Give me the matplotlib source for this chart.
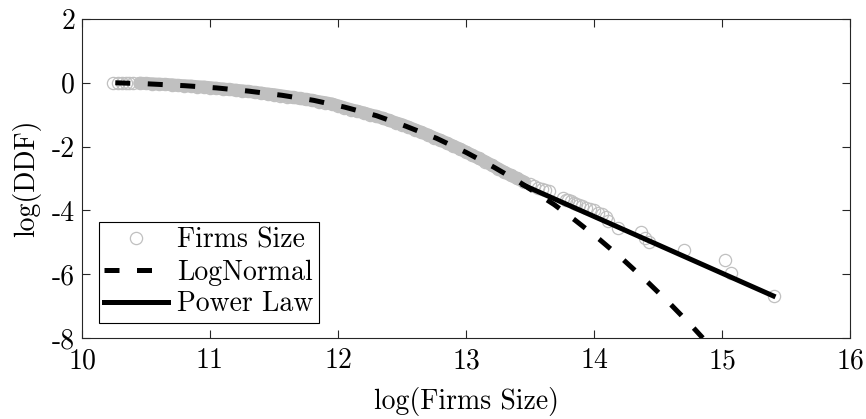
import matplotlib
matplotlib.use('Agg')
import matplotlib.pyplot as plt
import numpy as np

plt.rcParams['font.family'] = 'cmr10'
plt.rcParams['axes.unicode_minus'] = False
plt.rcParams['axes.formatter.use_mathtext'] = False

# firms size data (log-log ccdf)
# dense body
body_x = [10.24, 10.28, 10.31, 10.34, 10.37, 10.40,
          10.45, 10.50, 10.55, 10.60, 10.65, 10.70, 10.75, 10.80, 10.85, 10.90,
          10.95, 11.00, 11.05, 11.10, 11.15, 11.20, 11.25, 11.30, 11.35, 11.40,
          11.45, 11.50, 11.55, 11.60, 11.65, 11.70, 11.75, 11.80, 11.85, 11.90,
          11.95, 12.00, 12.05, 12.10, 12.15, 12.20, 12.25, 12.30, 12.35, 12.40,
          12.45, 12.50, 12.55, 12.60, 12.65, 12.70, 12.75, 12.80, 12.85, 12.90,
          12.95, 13.00, 13.05, 13.10, 13.15, 13.20, 13.25, 13.30, 13.35, 13.40, 13.45]
body_y = [0.0, 0.0, 0.0, 0.0, -0.01, -0.01,
          -0.01, -0.02, -0.03, -0.04, -0.05, -0.06, -0.08, -0.09, -0.10, -0.12,
          -0.13, -0.15, -0.17, -0.19, -0.21, -0.23, -0.25, -0.27, -0.30, -0.32,
          -0.35, -0.37, -0.40, -0.43, -0.46, -0.49, -0.52, -0.55, -0.59, -0.62,
          -0.66, -0.72, -0.78, -0.84, -0.89, -0.94, -1.00, -1.05, -1.11, -1.18,
          -1.25, -1.31, -1.39, -1.47, -1.55, -1.63, -1.72, -1.80, -1.89, -1.98,
          -2.07, -2.17, -2.27, -2.37, -2.47, -2.58, -2.69, -2.80, -2.90, -3.00, -3.10]
# sparse tail
tail_x = [13.50, 13.53, 13.56, 13.59, 13.62, 13.65, 13.76, 13.78, 13.80, 13.82,
          13.84, 13.86, 13.88, 13.91, 13.94, 13.97, 14.00, 14.03, 14.06, 14.09,
          14.11, 14.19, 14.37, 14.40, 14.43, 14.70, 15.02, 15.07, 15.41]
tail_y = [-3.18, -3.25, -3.30, -3.33, -3.36, -3.40, -3.62, -3.66, -3.68, -3.72,
          -3.76, -3.79, -3.83, -3.87, -3.92, -3.96, -4.00, -4.07, -4.12, -4.22,
          -4.33, -4.56, -4.68, -4.85, -5.00, -5.25, -5.55, -5.96, -6.68]

# lognormal fit
ln_x = [10.26, 10.5, 10.8, 11.05, 11.3, 11.56, 11.81, 12.05, 12.3, 12.53, 12.77,
        13.0, 13.22, 13.4, 13.69, 13.85, 14.04, 14.23, 14.42, 14.6, 14.77, 14.85]
ln_y = [0.0, -0.03, -0.09, -0.16, -0.26, -0.39, -0.55, -0.76, -1.03, -1.36, -1.74,
        -2.18, -2.65, -3.07, -3.82, -4.3, -4.9, -5.55, -6.25, -6.95, -7.65, -8.0]

# power law fit
pl_x = [13.45, 15.40]
pl_y = [-3.21, -6.68]

gray = '#c0c0c0'
fs = 20
fig = plt.figure(figsize=(8.66, 4.19), dpi=100)
ax = fig.add_axes([82/866, 81/419, 768/866, 319/419])

ax.plot(body_x[6:], body_y[6:], color=gray, lw=9.2, solid_capstyle='round', zorder=1)
ax.plot(body_x + tail_x, body_y + tail_y, 'o', mfc='none', mec=gray, ms=8.8, mew=0.9,
        zorder=2, label='Firms Size')
ax.plot(ln_x, ln_y, color='k', lw=3.6, dashes=(3.0, 3.5), zorder=3, label='LogNormal')
ax.plot(pl_x, pl_y, color='k', lw=3.6, zorder=4, label='Power Law')

ax.set_xlim(10, 16)
ax.set_ylim(-8, 2)
ax.set_xticks(np.arange(10, 17, 1))
ax.set_yticks(np.arange(-8, 3, 2))
ax.tick_params(direction='in', top=True, right=True, length=6, width=0.8,
               labelsize=fs, color='#262626')
ax.tick_params(axis='x', pad=7)
ax.tick_params(axis='y', pad=5)
for s in ax.spines.values():
    s.set_color('#262626')
    s.set_linewidth(0.8)

ax.set_xlabel('log(Firms Size)', fontsize=fs, labelpad=9)
ax.set_ylabel('log(DDF)', fontsize=fs, labelpad=8)

leg = ax.legend(loc='lower left', bbox_to_anchor=(0.022, 0.047), borderaxespad=0,
                fontsize=fs, fancybox=False, framealpha=1, edgecolor='k',
                handlelength=2.3, handletextpad=0.3, labelspacing=0.2,
                borderpad=0.2)
leg.get_frame().set_linewidth(0.8)

plt.savefig('out.png', dpi=100)
